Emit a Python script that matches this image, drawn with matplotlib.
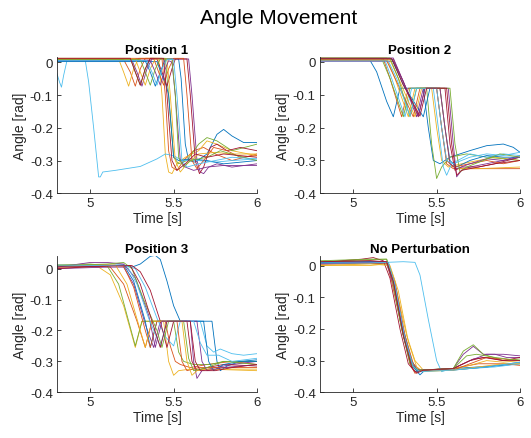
import matplotlib
matplotlib.use("Agg")
import matplotlib.pyplot as plt
from matplotlib.ticker import FuncFormatter

plt.rcParams['font.family'] = ['Liberation Sans', 'DejaVu Sans']

# MATLAB default colour order
colors = ['#0072BD', '#D95319', '#EDB120', '#7E2F8E', '#77AC30', '#4DBEEE', '#A2142F']

"""Traces read off the picture: (time [s], angle [rad]) pairs"""
pos1 = [
    [(4.8, 0.004), (5.33, 0.004), (5.36, -0.03), (5.39, -0.073), (5.42, -0.03), (5.45, 0.01), (5.53, 0.01), (5.545, -0.05), (5.57, -0.25), (5.59, -0.3), (5.63, -0.305), (5.7, -0.28), (5.76, -0.22), (5.8, -0.205), (5.85, -0.225), (5.92, -0.245), (6, -0.245)],
    [(4.8, 0.008), (5.2, 0.008), (5.24, -0.03), (5.27, -0.073), (5.3, -0.02), (5.33, 0.012), (5.43, 0.012), (5.45, -0.1), (5.47, -0.27), (5.49, -0.32), (5.52, -0.33), (5.56, -0.3), (5.62, -0.27), (5.68, -0.26), (5.75, -0.28), (5.85, -0.3), (6, -0.28)],
    [(4.8, 0.01), (5.17, 0.01), (5.2, -0.03), (5.23, -0.073), (5.26, -0.02), (5.29, 0.012), (5.41, 0.012), (5.43, -0.1), (5.45, -0.28), (5.47, -0.335), (5.49, -0.34), (5.52, -0.31), (5.57, -0.29), (5.65, -0.27), (5.7, -0.24), (5.76, -0.25), (5.85, -0.27), (6, -0.285)],
    [(4.8, 0.006), (5.25, 0.006), (5.28, -0.03), (5.31, -0.073), (5.34, -0.02), (5.37, 0.01), (5.59, 0.01), (5.61, -0.1), (5.64, -0.3), (5.66, -0.335), (5.68, -0.34), (5.71, -0.32), (5.76, -0.31), (5.85, -0.32), (6, -0.31)],
    [(4.8, 0.012), (5.24, 0.012), (5.27, -0.03), (5.3, -0.07), (5.33, -0.02), (5.36, 0.012), (5.45, 0.012), (5.47, -0.1), (5.5, -0.29), (5.53, -0.31), (5.58, -0.3), (5.65, -0.25), (5.7, -0.23), (5.76, -0.24), (5.85, -0.27), (6, -0.25)],
    [(4.8, -0.035), (4.815, -0.06), (4.827, -0.076), (4.84, -0.04), (4.86, 0.005), (4.97, 0.005), (4.99, -0.06), (5.02, -0.2), (5.05, -0.35), (5.06, -0.35), (5.075, -0.335), (5.15, -0.33), (5.3, -0.318), (5.4, -0.295), (5.45, -0.28), (5.5, -0.285), (5.55, -0.3), (5.65, -0.3), (5.75, -0.305), (5.85, -0.3), (6, -0.295)],
    [(4.8, 0.01), (5.4, 0.01), (5.43, -0.03), (5.46, -0.073), (5.49, -0.02), (5.51, 0.01), (5.58, 0.01), (5.6, -0.1), (5.63, -0.3), (5.655, -0.34), (5.68, -0.32), (5.72, -0.26), (5.76, -0.25), (5.82, -0.27), (5.9, -0.26), (6, -0.27)],
    [(4.8, 0.002), (5.4, 0.002), (5.43, -0.04), (5.455, -0.07), (5.47, -0.1), (5.5, -0.29), (5.53, -0.3), (5.6, -0.295), (5.7, -0.3), (5.8, -0.31), (6, -0.3)],
    [(4.8, 0.012), (5.38, 0.012), (5.41, -0.03), (5.44, -0.07), (5.47, -0.02), (5.5, 0.012), (5.56, 0.012), (5.58, -0.1), (5.61, -0.3), (5.64, -0.325), (5.68, -0.3), (5.74, -0.26), (5.82, -0.27), (5.9, -0.29), (6, -0.285)],
    [(4.8, 0.01), (5.27, 0.01), (5.3, -0.03), (5.33, -0.07), (5.36, -0.02), (5.39, 0.01), (5.46, 0.01), (5.48, -0.1), (5.51, -0.3), (5.54, -0.335), (5.58, -0.31), (5.65, -0.28), (5.75, -0.275), (5.85, -0.28), (6, -0.28)],
    [(4.8, 0.005), (5.36, 0.005), (5.39, -0.03), (5.42, -0.07), (5.45, -0.02), (5.47, 0.005), (5.49, 0.0), (5.51, -0.1), (5.54, -0.3), (5.57, -0.32), (5.62, -0.33), (5.7, -0.32), (5.8, -0.315), (6, -0.315)],
    [(4.8, 0.008), (5.3, 0.008), (5.33, -0.03), (5.36, -0.07), (5.39, -0.02), (5.42, 0.01), (5.49, 0.01), (5.51, -0.1), (5.53, -0.29), (5.56, -0.32), (5.6, -0.3), (5.7, -0.29), (5.78, -0.27), (5.88, -0.285), (6, -0.3)],
    [(4.8, 0.005), (5.34, 0.005), (5.37, -0.03), (5.4, -0.07), (5.43, -0.02), (5.46, 0.008), (5.5, 0.008), (5.52, -0.1), (5.55, -0.3), (5.58, -0.32), (5.65, -0.31), (5.75, -0.3), (5.85, -0.29), (6, -0.295)],
    [(4.8, 0.012), (5.24, 0.012), (5.27, -0.03), (5.3, -0.07), (5.33, -0.02), (5.36, 0.012), (5.44, 0.012), (5.46, -0.1), (5.49, -0.3), (5.52, -0.33), (5.57, -0.31), (5.63, -0.28), (5.7, -0.29), (5.8, -0.28), (6, -0.29)],
]

pos2 = [
    [(4.8, 0.005), (5.1, 0.005), (5.14, -0.03), (5.2, -0.12), (5.24, -0.167), (5.28, -0.08), (5.42, -0.08), (5.45, -0.2), (5.48, -0.3), (5.52, -0.31), (5.58, -0.29), (5.7, -0.27), (5.8, -0.255), (5.9, -0.25), (5.96, -0.26), (6, -0.275)],
    [(4.8, 0.01), (5.18, 0.01), (5.22, -0.05), (5.29, -0.167), (5.33, -0.08), (5.5, -0.08), (5.53, -0.2), (5.56, -0.31), (5.6, -0.325), (5.7, -0.325), (5.85, -0.325), (6, -0.325)],
    [(4.8, 0.012), (5.2, 0.012), (5.25, -0.05), (5.33, -0.167), (5.37, -0.08), (5.47, -0.08), (5.5, -0.2), (5.53, -0.3), (5.57, -0.32), (5.65, -0.31), (5.75, -0.3), (5.85, -0.29), (6, -0.3)],
    [(4.8, 0.002), (5.24, 0.002), (5.3, -0.06), (5.38, -0.167), (5.42, -0.08), (5.57, -0.08), (5.6, -0.25), (5.62, -0.35), (5.65, -0.33), (5.7, -0.32), (5.8, -0.31), (5.9, -0.3), (6, -0.285)],
    [(4.8, 0.008), (5.17, 0.01), (5.22, -0.05), (5.3, -0.167), (5.34, -0.08), (5.44, -0.08), (5.47, -0.25), (5.5, -0.355), (5.53, -0.32), (5.58, -0.29), (5.68, -0.28), (5.8, -0.29), (6, -0.3)],
    [(4.8, 0.005), (5.19, 0.005), (5.23, -0.05), (5.31, -0.167), (5.35, -0.08), (5.48, -0.08), (5.51, -0.2), (5.54, -0.32), (5.56, -0.345), (5.59, -0.31), (5.7, -0.28), (5.8, -0.29), (5.9, -0.28), (6, -0.285)],
    [(4.8, 0.008), (5.24, 0.008), (5.3, -0.06), (5.39, -0.167), (5.43, -0.08), (5.55, -0.08), (5.58, -0.25), (5.61, -0.33), (5.65, -0.32), (5.75, -0.32), (5.85, -0.31), (6, -0.29)],
    [(4.8, 0.01), (5.23, 0.01), (5.3, -0.07), (5.42, -0.167), (5.46, -0.08), (5.52, -0.08), (5.55, -0.2), (5.58, -0.3), (5.62, -0.32), (5.7, -0.3), (5.8, -0.285), (5.9, -0.29), (6, -0.29)],
    [(4.8, 0.004), (5.2, 0.004), (5.26, -0.06), (5.36, -0.167), (5.4, -0.08), (5.5, -0.08), (5.53, -0.2), (5.56, -0.3), (5.6, -0.32), (5.7, -0.31), (5.8, -0.3), (5.9, -0.31), (6, -0.3)],
    [(4.8, 0.006), (5.22, 0.006), (5.28, -0.06), (5.37, -0.167), (5.41, -0.08), (5.52, -0.08), (5.55, -0.2), (5.58, -0.31), (5.62, -0.325), (5.75, -0.325), (6, -0.32)],
    [(4.8, 0.012), (5.24, 0.012), (5.3, -0.06), (5.39, -0.165), (5.43, -0.08), (5.52, -0.08), (5.55, -0.2), (5.58, -0.31), (5.62, -0.325), (5.7, -0.31), (5.8, -0.295), (5.9, -0.3), (6, -0.29)],
    [(4.8, 0.012), (5.22, 0.012), (5.27, -0.05), (5.34, -0.167), (5.38, -0.08), (5.58, -0.08), (5.61, -0.25), (5.64, -0.335), (5.68, -0.32), (5.78, -0.3), (5.88, -0.28), (6, -0.29)],
    [(4.8, 0.003), (5.21, 0.003), (5.26, -0.05), (5.34, -0.165), (5.38, -0.08), (5.5, -0.08), (5.53, -0.2), (5.56, -0.3), (5.6, -0.31), (5.7, -0.29), (5.8, -0.28), (5.9, -0.285), (6, -0.275)],
    [(4.8, 0.01), (5.23, 0.01), (5.3, -0.07), (5.4, -0.165), (5.44, -0.08), (5.56, -0.08), (5.59, -0.25), (5.62, -0.345), (5.65, -0.33), (5.75, -0.32), (5.85, -0.31), (6, -0.3)],
]

pos3 = [
    [(4.8, 0.01), (5.0, 0.012), (5.2, 0.01), (5.25, 0.005), (5.3, 0.015), (5.36, 0.04), (5.39, 0.043), (5.42, 0.03), (5.46, -0.04), (5.5, -0.12), (5.54, -0.17), (5.73, -0.17), (5.76, -0.3), (5.78, -0.33), (5.82, -0.315), (5.9, -0.3), (6, -0.295)],
    [(4.8, 0.008), (5.0, 0.01), (5.12, 0.005), (5.2, -0.05), (5.28, -0.17), (5.33, -0.255), (5.37, -0.17), (5.45, -0.17), (5.48, -0.25), (5.51, -0.3), (5.54, -0.31), (5.6, -0.32), (5.7, -0.31), (5.85, -0.3), (6, -0.31)],
    [(4.8, 0.005), (5.05, 0.005), (5.12, -0.02), (5.2, -0.12), (5.27, -0.255), (5.31, -0.17), (5.44, -0.17), (5.47, -0.3), (5.5, -0.345), (5.53, -0.33), (5.6, -0.325), (5.7, -0.325), (6, -0.325)],
    [(4.8, 0.0), (5.1, 0.005), (5.2, 0.005), (5.26, -0.05), (5.33, -0.18), (5.38, -0.255), (5.42, -0.17), (5.6, -0.17), (5.62, -0.3), (5.64, -0.355), (5.67, -0.33), (5.75, -0.32), (5.85, -0.31), (6, -0.3)],
    [(4.8, 0.012), (5.0, 0.015), (5.1, 0.01), (5.17, -0.05), (5.23, -0.17), (5.27, -0.25), (5.31, -0.17), (5.5, -0.17), (5.53, -0.27), (5.56, -0.3), (5.62, -0.31), (5.72, -0.31), (5.8, -0.3), (6, -0.3)],
    [(4.8, 0.01), (5.2, 0.012), (5.27, 0.0), (5.33, -0.06), (5.4, -0.16), (5.45, -0.22), (5.5, -0.25), (5.54, -0.17), (5.66, -0.17), (5.7, -0.25), (5.74, -0.27), (5.78, -0.26), (5.85, -0.275), (5.92, -0.28), (6, -0.275)],
    [(4.8, 0.0), (5.1, 0.01), (5.25, 0.01), (5.3, -0.01), (5.36, -0.07), (5.42, -0.17), (5.46, -0.255), (5.5, -0.17), (5.58, -0.17), (5.61, -0.3), (5.64, -0.33), (5.7, -0.32), (5.8, -0.31), (6, -0.315)],
    [(4.8, 0.008), (5.1, 0.01), (5.2, 0.012), (5.26, -0.04), (5.33, -0.17), (5.36, -0.255), (5.4, -0.17), (5.68, -0.17), (5.71, -0.3), (5.74, -0.33), (5.8, -0.31), (5.9, -0.3), (6, -0.3)],
    [(4.8, 0.01), (5.1, 0.012), (5.2, 0.008), (5.26, -0.06), (5.33, -0.2), (5.36, -0.255), (5.4, -0.17), (5.52, -0.17), (5.55, -0.3), (5.58, -0.33), (5.65, -0.32), (5.8, -0.32), (6, -0.32)],
    [(4.8, 0.012), (5.0, 0.012), (5.15, 0.012), (5.22, -0.05), (5.3, -0.2), (5.33, -0.255), (5.37, -0.17), (5.55, -0.17), (5.58, -0.3), (5.61, -0.345), (5.64, -0.33), (5.7, -0.325), (6, -0.33)],
    [(4.8, 0.005), (5.0, 0.02), (5.1, 0.02), (5.2, 0.015), (5.27, -0.03), (5.35, -0.15), (5.39, -0.255), (5.43, -0.17), (5.64, -0.17), (5.67, -0.3), (5.7, -0.33), (5.8, -0.32), (6, -0.31)],
    [(4.8, 0.01), (5.1, 0.015), (5.2, 0.02), (5.25, 0.0), (5.32, -0.1), (5.4, -0.2), (5.43, -0.255), (5.47, -0.17), (5.56, -0.17), (5.59, -0.29), (5.62, -0.33), (5.7, -0.32), (5.8, -0.3), (6, -0.31)],
    [(4.8, 0.012), (5.1, 0.01), (5.22, 0.01), (5.28, -0.05), (5.35, -0.16), (5.42, -0.25), (5.46, -0.17), (5.62, -0.17), (5.66, -0.24), (5.7, -0.28), (5.77, -0.28), (5.85, -0.3), (6, -0.29)],
    [(4.8, 0.005), (5.1, 0.008), (5.24, 0.01), (5.3, -0.05), (5.37, -0.17), (5.42, -0.255), (5.46, -0.17), (5.6, -0.17), (5.63, -0.3), (5.66, -0.33), (5.75, -0.33), (5.85, -0.32), (6, -0.31)],
]

no_pert = [
    [(4.8, 0.005), (5.1, 0.008), (5.2, 0.005), (5.24, -0.05), (5.3, -0.2), (5.35, -0.3), (5.39, -0.335), (5.45, -0.33), (5.6, -0.325), (5.75, -0.32), (5.9, -0.315), (6, -0.31)],
    [(4.8, 0.01), (5.1, 0.015), (5.2, 0.01), (5.23, -0.05), (5.3, -0.22), (5.34, -0.31), (5.37, -0.34), (5.41, -0.33), (5.6, -0.325), (5.75, -0.31), (5.9, -0.31), (6, -0.315)],
    [(4.8, 0.0), (5.1, 0.0), (5.2, 0.005), (5.26, -0.08), (5.32, -0.22), (5.37, -0.3), (5.42, -0.33), (5.6, -0.325), (5.7, -0.315), (5.8, -0.3), (5.9, -0.305), (6, -0.3)],
    [(4.8, 0.008), (5.1, 0.012), (5.2, 0.01), (5.24, -0.06), (5.3, -0.22), (5.35, -0.32), (5.4, -0.33), (5.6, -0.325), (5.66, -0.28), (5.72, -0.255), (5.78, -0.28), (5.85, -0.28), (5.92, -0.29), (6, -0.29)],
    [(4.8, 0.012), (5.1, 0.018), (5.2, 0.02), (5.23, -0.03), (5.29, -0.2), (5.34, -0.31), (5.38, -0.33), (5.6, -0.325), (5.66, -0.27), (5.72, -0.25), (5.78, -0.28), (5.9, -0.3), (6, -0.295)],
    [(4.8, 0.01), (5.2, 0.01), (5.3, 0.012), (5.37, 0.01), (5.4, -0.03), (5.45, -0.17), (5.5, -0.3), (5.53, -0.335), (5.56, -0.33), (5.7, -0.325), (5.85, -0.32), (6, -0.31)],
    [(4.8, 0.01), (5.05, 0.02), (5.12, 0.025), (5.18, 0.015), (5.22, -0.04), (5.28, -0.2), (5.33, -0.31), (5.37, -0.335), (5.42, -0.33), (5.6, -0.325), (5.72, -0.295), (5.8, -0.29), (5.9, -0.3), (6, -0.29)],
    [(4.8, 0.01), (5.1, 0.012), (5.21, 0.01), (5.25, -0.06), (5.31, -0.24), (5.36, -0.32), (5.4, -0.345), (5.43, -0.33), (5.6, -0.33), (5.8, -0.32), (6, -0.305)],
    [(4.8, 0.004), (5.1, 0.006), (5.21, 0.008), (5.25, -0.05), (5.31, -0.22), (5.36, -0.31), (5.4, -0.33), (5.6, -0.33), (5.7, -0.31), (5.8, -0.29), (5.9, -0.295), (6, -0.3)],
    [(4.8, 0.0), (5.1, 0.005), (5.22, 0.0), (5.27, -0.08), (5.33, -0.24), (5.38, -0.32), (5.42, -0.335), (5.6, -0.33), (5.75, -0.32), (5.9, -0.31), (6, -0.31)],
    [(4.8, 0.006), (5.1, 0.01), (5.2, 0.012), (5.24, -0.05), (5.3, -0.21), (5.35, -0.31), (5.39, -0.33), (5.6, -0.325), (5.7, -0.3), (5.8, -0.28), (5.9, -0.28), (6, -0.285)],
    [(4.8, 0.015), (5.1, 0.02), (5.2, 0.02), (5.23, -0.03), (5.29, -0.2), (5.35, -0.315), (5.39, -0.33), (5.6, -0.325), (5.68, -0.285), (5.74, -0.28), (5.85, -0.29), (6, -0.3)],
    [(4.8, 0.008), (5.1, 0.008), (5.21, 0.01), (5.25, -0.06), (5.31, -0.23), (5.36, -0.32), (5.4, -0.335), (5.6, -0.33), (5.8, -0.32), (6, -0.305)],
    [(4.8, 0.012), (5.1, 0.015), (5.2, 0.012), (5.24, -0.05), (5.3, -0.22), (5.35, -0.32), (5.38, -0.34), (5.42, -0.33), (5.6, -0.325), (5.7, -0.3), (5.78, -0.29), (5.9, -0.3), (6, -0.3)],
]

titles = ['Position 1', 'Position 2', 'Position 3', 'No Perturbation']
panels = [pos1, pos2, pos3, no_pert]
y_tops = [0.017, 0.016, 0.042, 0.031]
x_ticks = [5, 5.5, 6]
y_ticks = [0, -0.1, -0.2, -0.3, -0.4]

"""Axes placement (figure fractions)"""
boxes = [
    [0.1073, 0.5574, 0.3766, 0.3112],
    [0.6026, 0.5574, 0.3766, 0.3112],
    [0.1073, 0.1041, 0.3766, 0.3112],
    [0.6026, 0.1041, 0.3766, 0.3112],
]

fig = plt.figure(figsize=(5.31, 4.39), dpi=100)
fig.suptitle('Angle Movement', fontsize=15, x=0.524, y=0.98, color='#000000')

fmt = FuncFormatter(lambda v, p: ('%g' % v).replace('\u2212', '-'))

for box, title, traces, ytop in zip(boxes, titles, panels, y_tops):
    ax = fig.add_axes(box)
    for i, tr in enumerate(traces):
        t = [p[0] for p in tr]
        y = [p[1] for p in tr]
        ax.plot(t, y, color=colors[i % len(colors)], lw=0.6)
    ax.set_xlim(4.8, 6)
    ax.set_ylim(-0.4, ytop)
    ax.set_xticks(x_ticks)
    ax.set_yticks(y_ticks)
    ax.xaxis.set_major_formatter(fmt)
    ax.yaxis.set_major_formatter(fmt)
    ax.spines['top'].set_visible(False)
    ax.spines['right'].set_visible(False)
    for s in ('left', 'bottom'):
        ax.spines[s].set_color('#262626')
        ax.spines[s].set_linewidth(0.6)
    ax.tick_params(direction='in', length=3, width=0.6, colors='#262626',
                   labelsize=9.5, labelcolor='#262626', pad=3)
    ax.set_title(title, fontsize=9.5, fontweight='bold', pad=3)
    ax.set_xlabel('Time [s]', fontsize=10, color='#262626', labelpad=1)
    ax.set_ylabel('Angle [rad]', fontsize=10, color='#262626', labelpad=2)

plt.savefig('out.png', dpi=100)
